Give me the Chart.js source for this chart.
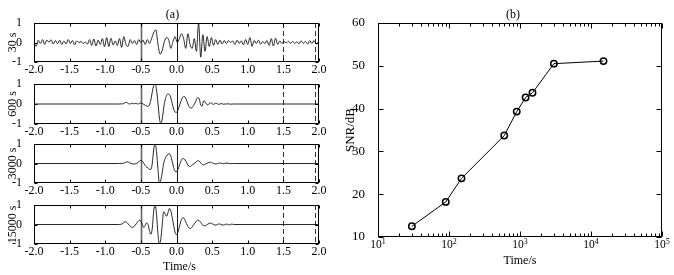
<!DOCTYPE html>
<html><head><meta charset="utf-8">
<script src="https://cdn.jsdelivr.net/npm/chart.js@4.4.1/dist/chart.umd.min.js"></script>
<style>
html,body{margin:0;padding:0;background:#fff;}
#wrap{position:relative;width:674px;height:275px;overflow:hidden;background:#fff;}
canvas{position:absolute;}
</style></head><body><div id="wrap">
<canvas id="w1" width="330" height="81" style="left:0px;top:0px"></canvas>
<canvas id="w2" width="330" height="67" style="left:0px;top:76px"></canvas>
<canvas id="w3" width="330" height="66" style="left:0px;top:136px"></canvas>
<canvas id="w4" width="330" height="78" style="left:0px;top:197px"></canvas>
<canvas id="snr" width="344" height="275" style="left:330px;top:0px"></canvas>
</div>
<script>
// ---------------- data ----------------
const waveXTicks = [-2, -1.5, -1, -0.5, 0, 0.5, 1, 1.5, 2];
const waveYTicks = [-1, 0, 1];
const waveSolidMarks = [-0.5, 0];
const waveDashedMarks = [1.5, 1.95];
const wavePanelTitles = ['30 s', '600 s', '3000 s', '15000 s'];

const t30 = [-2.00,-1.97,-1.94,-1.91,-1.88,-1.85,-1.82,-1.79,-1.76,-1.73,
-1.70,-1.67,-1.64,-1.61,-1.58,-1.55,-1.52,-1.49,-1.46,-1.43,
-1.40,-1.37,-1.34,-1.31,-1.28,-1.25,-1.22,-1.19,-1.16,-1.13,
-1.10,-1.07,-1.04,-1.01,-0.98,-0.95,-0.92,-0.89,-0.86,-0.83,
-0.80,-0.77,-0.74,-0.71,-0.68,-0.65,-0.62,-0.59,-0.56,-0.53,
-0.50,-0.47,-0.44,-0.41,-0.38,-0.35,-0.32,-0.29,-0.26,-0.23,
-0.20,-0.17,-0.14,-0.11,-0.08,-0.05,-0.02,0.01,0.04,0.07,
0.10,0.13,0.16,0.19,0.22,0.25,0.28,0.31,0.34,0.37,
0.40,0.43,0.46,0.49,0.52,0.55,0.58,0.61,0.64,0.67,
0.70,0.73,0.76,0.79,0.82,0.85,0.88,0.91,0.94,0.97,
1.00,1.03,1.06,1.09,1.12,1.15,1.18,1.21,1.24,1.27,
1.30,1.33,1.36,1.39,1.42,1.45,1.48,1.51,1.54,1.57,
1.60,1.63,1.66,1.69,1.72,1.75,1.78,1.81,1.84,1.87,
1.90,1.93,1.96,1.99,2.00];
const v30 = [0.0,-0.2,0.12,-0.05,0.15,-0.1,0.12,0.02,0.14,-0.08,
0.1,-0.06,0.12,-0.1,0.08,-0.08,0.15,-0.05,0.1,-0.12,
0.08,0.0,0.05,-0.05,0.02,-0.08,0.15,-0.15,0.18,-0.18,
0.12,-0.1,0.2,-0.22,0.25,-0.2,0.22,-0.12,0.08,-0.15,
0.2,-0.25,0.3,-0.1,-0.2,0.15,-0.05,0.1,-0.1,0.15,
0.0,0.12,-0.1,0.15,-0.05,0.2,0.5,0.65,-0.1,-0.6,
-0.4,0.05,0.25,0.15,-0.3,0.05,0.3,0.0,0.2,0.45,
0.2,-0.3,0.45,-0.1,-0.3,0.2,-0.45,1.0,-0.75,0.4,
-0.45,0.3,-0.2,0.25,-0.15,0.15,-0.1,0.12,-0.08,0.1,
-0.06,0.1,0.0,0.08,-0.1,0.12,-0.05,0.08,-0.12,0.15,
-0.1,0.25,-0.2,0.1,-0.05,0.12,-0.08,0.05,-0.06,0.1,
-0.15,0.2,-0.18,0.22,-0.1,0.08,-0.05,0.05,-0.02,0.06,
-0.04,0.05,-0.05,0.04,-0.06,0.08,-0.05,0.06,-0.08,0.1,
-0.05,0.1,-0.08,0.02,0.0];

const tCore = [-2.0,
-0.80,-0.78,-0.76,-0.74,-0.72,-0.70,-0.68,-0.66,-0.64,-0.62,
-0.60,-0.58,-0.56,-0.54,-0.52,-0.50,-0.48,-0.46,-0.44,-0.42,
-0.40,-0.38,-0.36,-0.34,-0.32,-0.30,-0.28,-0.26,-0.24,-0.22,
-0.20,-0.18,-0.16,-0.14,-0.12,-0.10,-0.08,-0.06,-0.04,-0.02,
0.00,0.02,0.04,0.06,0.08,0.10,0.12,0.14,0.16,0.18,
0.20,0.22,0.24,0.26,0.28,0.30,0.32,0.34,0.36,0.38,
0.40,0.42,0.44,0.46,0.48,0.50,0.52,0.54,0.56,0.58,
0.60,0.62,0.64,0.66,0.68,0.70,0.72,0.74,0.76,0.78,
0.80,2.0];
const v600 = [0,
0,0.01,0.0,0.03,0.07,0.08,0.03,0.0,0.02,0.04,
0.01,0.03,0.02,0.0,0.03,0.05,0.03,-0.02,-0.06,-0.1,
-0.12,-0.05,0.2,0.6,0.92,1.0,0.7,0.05,-0.7,-1.0,
-0.75,-0.2,0.2,0.42,0.5,0.48,0.3,0.02,-0.25,-0.4,
-0.42,-0.3,-0.1,0.12,0.3,0.38,0.35,0.2,0.0,-0.15,
-0.2,-0.18,-0.08,0.05,0.22,0.32,0.25,-0.05,-0.1,0.15,
0.12,0.0,-0.05,0.03,0.06,0.02,-0.02,0.02,0.04,0.0,
-0.02,0.02,0.01,-0.01,0.0,0.0,0.01,0.0,-0.01,0.0,
0.0,0];
const v3000 = [0,
0,0,0.01,0.02,0.05,0.08,0.08,0.04,0.0,-0.02,
-0.03,-0.02,0.0,0.05,0.12,0.16,0.12,0.02,-0.1,-0.18,
-0.22,-0.3,-0.3,0.0,0.7,1.0,0.6,-0.3,-1.0,-0.85,
-0.45,0.0,0.25,0.38,0.48,0.5,0.38,0.1,-0.2,-0.4,
-0.42,-0.3,-0.1,0.1,0.24,0.25,0.18,0.05,-0.08,-0.15,
-0.14,-0.08,-0.02,0.03,0.1,0.14,0.12,0.03,-0.05,-0.07,
-0.04,0.0,0.03,0.06,0.07,0.04,0.0,-0.02,-0.02,0.0,
0.02,0.02,0.0,-0.01,0.01,0.02,0.01,0,0,0,
0,0];
const v15000 = [0,
0,0.01,0.04,0.1,0.14,0.12,0.04,-0.05,-0.12,-0.15,
-0.12,-0.04,0.06,0.16,0.22,0.18,0.0,-0.15,-0.05,0.08,
0.0,-0.3,-0.5,-0.2,0.7,1.0,0.5,-0.5,-1.0,-0.75,
0.0,0.65,0.55,0.42,0.6,0.82,0.7,0.35,-0.05,-0.4,
-0.52,-0.4,-0.12,0.15,0.32,0.34,0.22,0.05,-0.1,-0.19,
-0.2,-0.12,-0.02,0.08,0.18,0.22,0.2,0.1,0.0,-0.06,
-0.07,-0.03,0.02,0.06,0.07,0.04,0.0,-0.03,-0.02,0.01,
0.03,0.01,-0.02,-0.03,0.0,0.02,0.0,-0.02,0.01,0.02,
0.0,0];

const snrTime = [30, 90, 150, 600, 900, 1200, 1500, 3000, 15000];
const snrDb   = [12.5, 18.2, 23.7, 33.7, 39.3, 42.6, 43.7, 50.5, 51.1];
const snrXMajor = [10, 100, 1000, 10000, 100000];
const snrXMinorMult = [2, 3, 4, 5, 6, 7, 8, 9];
const snrYTicks = [10, 20, 30, 40, 50, 60];

// ---------------- style ----------------
const SERIF = "'Liberation Serif','Times New Roman',serif";
Chart.defaults.font.family = SERIF;
Chart.defaults.color = '#000';

function makeDeco(cfg) {
  return {
    id: 'deco',
    beforeDatasetsDraw(chart) {
      const {ctx, chartArea: a, scales: {x}} = chart;
      ctx.save();
      (cfg.vlines || []).forEach(l => {
        const px = Math.round(x.getPixelForValue(l.value)) + 0.5;
        ctx.beginPath();
        ctx.strokeStyle = l.color; ctx.lineWidth = l.width;
        ctx.setLineDash(l.dash || []);
        ctx.moveTo(px, a.top); ctx.lineTo(px, a.bottom);
        ctx.stroke();
      });
      ctx.restore();
    },
    afterDatasetsDraw(chart) {
      const {ctx, chartArea: a, scales: {x, y}} = chart;
      ctx.save();
      ctx.strokeStyle = '#000'; ctx.lineWidth = 1; ctx.setLineDash([]);
      const L = Math.round(a.left) + 0.5, R = Math.round(a.right) - 0.5;
      const T = Math.round(a.top) + 0.5, B = Math.round(a.bottom) - 0.5;
      ctx.strokeRect(L, T, R - L, B - T);
      ctx.beginPath();
      x.ticks.forEach(t => {
        const px = Math.round(x.getPixelForValue(t.value)) + 0.5;
        const len = t.minor ? cfg.minorLen : cfg.majorLen;
        ctx.moveTo(px, B); ctx.lineTo(px, B - len);
        ctx.moveTo(px, T); ctx.lineTo(px, T + len);
      });
      y.ticks.forEach(t => {
        const py = Math.round(y.getPixelForValue(t.value)) + 0.5;
        ctx.moveTo(L, py); ctx.lineTo(L + cfg.majorLen, py);
        ctx.moveTo(R, py); ctx.lineTo(R - cfg.majorLen, py);
      });
      ctx.stroke();
      ctx.fillStyle = '#000';
      if (cfg.logLabels) {
        x.ticks.filter(t => !t.minor).forEach(t => {
          const px = x.getPixelForValue(t.value);
          const e = String(Math.round(Math.log10(t.value)));
          ctx.font = cfg.baseFont + 'px ' + SERIF;
          const w1 = ctx.measureText('10').width;
          ctx.font = cfg.expFont + 'px ' + SERIF;
          const w2 = ctx.measureText(e).width;
          const x0 = px - (w1 + w2) / 2;
          ctx.textAlign = 'left'; ctx.textBaseline = 'middle';
          ctx.font = cfg.baseFont + 'px ' + SERIF;
          ctx.fillText('10', x0, a.bottom + cfg.labelDy);
          ctx.font = cfg.expFont + 'px ' + SERIF;
          ctx.fillText(e, x0 + w1, a.bottom + cfg.labelDy - 3.5);
        });
      }
      ctx.textAlign = 'center'; ctx.textBaseline = 'middle';
      if (cfg.xLabels) {
        ctx.font = '12px ' + SERIF;
        x.ticks.forEach(t => {
          ctx.fillText(Number(t.value).toFixed(1), x.getPixelForValue(t.value), a.bottom + 8);
        });
      }
      ctx.font = '12px ' + SERIF;
      if (cfg.title) {
        ctx.fillText(cfg.title, (a.left + a.right) / 2 + cfg.titleDx, a.top - 8.5);
      }
      if (cfg.xTitle) {
        ctx.fillText(cfg.xTitle, (a.left + a.right) / 2 + 3, a.bottom + cfg.xTitleDy);
      }
      ctx.restore();
    }
  };
}

const markLines = [
  {value: waveSolidMarks[0], color: '#666', width: 1.6},
  {value: waveSolidMarks[1], color: '#1a1a1a', width: 1},
  {value: waveDashedMarks[0], color: '#333', width: 1, dash: [5, 3]},
  {value: waveDashedMarks[1], color: '#333', width: 1, dash: [5, 3]}
];

function wavePanel(id, times, values, yTitle, padTop, padBottom, xTitle, title) {
  const data = times.map((t, i) => ({x: t, y: values[i]}));
  return new Chart(document.getElementById(id), {
    type: 'line',
    data: {datasets: [{data, borderColor: '#111', borderWidth: 0.9, pointRadius: 0,
      cubicInterpolationMode: 'monotone', fill: false}]},
    options: {
      responsive: false, animation: false, devicePixelRatio: 1,
      layout: {padding: {top: padTop, right: 11, left: 0, bottom: padBottom}},
      plugins: {legend: {display: false}, tooltip: {enabled: false}},
      scales: {
        x: {type: 'linear', min: -2, max: 2,
          afterBuildTicks: s => { s.ticks = waveXTicks.map(v => ({value: v})); },
          afterFit: s => { s.height = 19; s.paddingLeft = 0; s.paddingRight = 0; },
          grid: {display: false}, border: {display: false},
          ticks: {display: false, autoSkip: false}
        },
        y: {type: 'linear', min: -1, max: 1,
          afterBuildTicks: s => { s.ticks = waveYTicks.map(v => ({value: v})); },
          afterFit: s => { s.width = 34; s.paddingTop = 0; s.paddingBottom = 0; },
          grid: {display: false}, border: {display: false},
          ticks: {padding: 4, font: {size: 12}, color: '#000', callback: v => String(v)},
          title: {display: true, text: yTitle, font: {size: 12}, color: '#000',
            padding: {top: 6, bottom: 0}}
        }
      }
    },
    plugins: [makeDeco({vlines: markLines, majorLen: 3, minorLen: 2, title: title, titleDx: -4,
      xLabels: true, xTitle: xTitle, xTitleDy: 23})]
  });
}

wavePanel('w1', t30, v30, wavePanelTitles[0], 23, 0, null, '(a)');
wavePanel('w2', tCore, v600, wavePanelTitles[1], 8, 0, null, null);
wavePanel('w3', tCore, v3000, wavePanelTitles[2], 8, 0, null, null);
wavePanel('w4', tCore, v15000, wavePanelTitles[3], 8, 12, 'Time/s', null);

new Chart(document.getElementById('snr'), {
  type: 'line',
  data: {datasets: [{
    data: snrTime.map((t, i) => ({x: t, y: snrDb[i]})),
    borderColor: '#000', borderWidth: 1, tension: 0, fill: false,
    pointRadius: 3.2, pointBorderWidth: 1.5, pointBorderColor: '#000',
    pointBackgroundColor: 'rgba(0,0,0,0)'
  }]},
  options: {
    responsive: false, animation: false, devicePixelRatio: 1,
    layout: {padding: {top: 23, right: 12, left: 0, bottom: 0}},
    plugins: {legend: {display: false}, tooltip: {enabled: false}},
    scales: {
      x: {type: 'logarithmic', min: 10, max: 100000,
        afterBuildTicks: s => {
          const ticks = [];
          snrXMajor.forEach((m, i) => {
            ticks.push({value: m, minor: false});
            if (i < snrXMajor.length - 1) snrXMinorMult.forEach(k => ticks.push({value: m * k, minor: true}));
          });
          s.ticks = ticks;
        },
        afterFit: s => { s.height = 38; s.paddingLeft = 0; s.paddingRight = 0; },
        grid: {display: false}, border: {display: false},
        ticks: {display: false, autoSkip: false},
        title: {display: true, text: 'Time/s', font: {size: 12}, color: '#000', padding: {top: 0, bottom: 7}}
      },
      y: {type: 'linear', min: 10, max: 60,
        afterBuildTicks: s => { s.ticks = snrYTicks.map(v => ({value: v})); },
        afterFit: s => { s.width = 48; s.paddingTop = 0; s.paddingBottom = 0; },
        grid: {display: false}, border: {display: false},
        ticks: {padding: 5, font: {size: 13}, color: '#000'},
        title: {display: true, text: 'SNR/dB', font: {size: 13}, color: '#000', padding: {top: 13, bottom: 0}}
      }
    }
  },
  plugins: [makeDeco({vlines: [], majorLen: 5, minorLen: 3, logLabels: true, baseFont: 11.5, expFont: 8, labelDy: 8, title: '(b)', titleDx: -7})]
});
</script></body></html>
